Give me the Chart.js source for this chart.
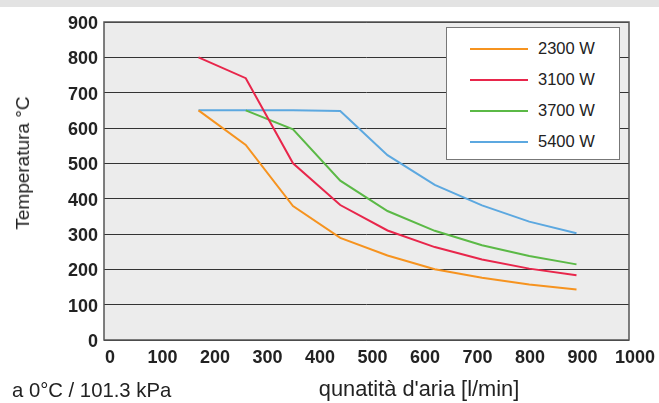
<!DOCTYPE html>
<html>
<head>
<meta charset="utf-8">
<script src="https://cdn.jsdelivr.net/npm/chart.js@4/dist/chart.umd.min.js"></script>
<style>
  body { margin: 0; background: #fff; }
  #wrap { position: relative; width: 659px; height: 403px; overflow: hidden;
          font-family: "Liberation Sans", Arial, sans-serif; }
  #band { position: absolute; left: 0; top: 0; width: 659px; height: 7px; background: #e3e3e3; }
  #salaryChart { position: absolute; left: 0; top: 0; }
  .txt { position: absolute; color: #222; white-space: nowrap; }
  #ytitle { left: 23px; top: 163px; font-size: 19px; transform: translate(-50%, -50%) rotate(-90deg); }
  #xtitle { left: 419px; top: 389px; font-size: 21.8px; transform: translate(-50%, -50%); }
  #note { left: 12px; top: 390px; font-size: 20.3px; transform: translateY(-50%); }
  #legend { position: absolute; left: 446px; top: 27px; width: 174px; height: 133px;
            background: #fff; border: 1px solid #777; box-sizing: border-box;
            font-size: 16.5px; color: #222; }
  .item { position: absolute; left: 23px; height: 20px; white-space: nowrap; }
  .item .sw { position: absolute; left: 0; top: 9px; width: 58px; height: 2px; }
  .item .lb { position: absolute; left: 68px; top: 0px; line-height: 19px; }
</style>
</head>
<body>
<div id="wrap">
  <div id="band"></div>
  <canvas id="salaryChart" width="659" height="403"></canvas>
  <div id="legend"></div>
  <div class="txt" id="ytitle">Temperatura °C</div>
  <div class="txt" id="xtitle">qunatità d'aria [l/min]</div>
  <div class="txt" id="note">a 0°C / 101.3 kPa</div>
</div>
<script>
// air flow values (l/min)
const airFlow = [180, 270, 360, 450, 540, 630, 720, 810, 900];
// temperature per heater power
const temp2300 = [650, 552, 379, 289, 239, 200, 176, 157, 143];
const temp3100 = [800, 741, 500, 382, 310, 263, 228, 202, 183];
const temp3700 = [null, 650, 596, 451, 365, 309, 268, 238, 214];
const temp5400 = [650, 650, 650, 648, 523, 439, 381, 335, 302];
const seriesNames = ['2300 W', '3100 W', '3700 W', '5400 W'];
const seriesColors = ['#f6931f', '#e8264b', '#5bb946', '#5ca8e0'];
const xTicks = [0, 100, 200, 300, 400, 500, 600, 700, 800, 900, 1000];
const yTicks = [0, 100, 200, 300, 400, 500, 600, 700, 800, 900];

function toPoints(ys) {
  const pts = [];
  for (let i = 0; i < airFlow.length; i++) {
    if (ys[i] !== null) pts.push({ x: airFlow[i], y: ys[i] });
  }
  return pts;
}

const allSeries = [temp2300, temp3100, temp3700, temp5400];
const datasets = allSeries.map(function (s, i) {
  return {
    label: seriesNames[i],
    data: toPoints(s),
    borderColor: seriesColors[i],
    backgroundColor: seriesColors[i],
    borderWidth: 2,
    pointRadius: 0,
    tension: 0
  };
});

// plot background + frame
const plotFrame = {
  id: 'plotFrame',
  beforeDraw(chart) {
    const a = chart.chartArea, c = chart.ctx;
    c.save();
    c.fillStyle = '#ececec';
    c.fillRect(a.left, a.top, a.right - a.left, a.bottom - a.top);
    c.restore();
  },
  afterDatasetsDraw(chart) {
    const a = chart.chartArea, c = chart.ctx;
    c.save();
    c.strokeStyle = '#555';
    c.lineWidth = 1.5;
    c.strokeRect(a.left, a.top, a.right - a.left, a.bottom - a.top);
    c.restore();
  }
};

const tickFont = { family: '"Liberation Sans", Arial, sans-serif', size: 18, weight: 'bold' };

const ctx = document.getElementById('salaryChart').getContext('2d');
const chart = new Chart(ctx, {
  type: 'line',
  data: { datasets: datasets },
  options: {
    responsive: false,
    animation: false,
    layout: { padding: { top: 22, right: 30, left: 0, bottom: 0 } },
    scales: {
      x: {
        type: 'linear',
        min: 0, max: 1000,
        afterBuildTicks: function (axis) { axis.ticks = xTicks.map(v => ({ value: v })); },
        afterFit: function (axis) { axis.height = 63; },
        grid: { display: false, drawTicks: false },
        border: { display: false },
        ticks: { color: '#222', font: tickFont, padding: 7, labelOffset: 6, maxRotation: 0, autoSkip: false,
                 callback: function (v) { return String(v); } }
      },
      y: {
        min: 0, max: 900,
        afterBuildTicks: function (axis) { axis.ticks = yTicks.map(v => ({ value: v })); },
        afterFit: function (axis) { axis.width = 104; },
        grid: { color: '#333', lineWidth: 1, drawTicks: false },
        border: { display: false },
        ticks: { color: '#222', font: tickFont, padding: 6, labelOffset: 2,
                 callback: function (v) { return String(v); } }
      }
    },
    plugins: {
      legend: { display: false },
      tooltip: { enabled: false }
    }
  },
  plugins: [plotFrame]
});

// html legend built from the datasets
const legend = document.getElementById('legend');
chart.data.datasets.forEach(function (ds, i) {
  const item = document.createElement('div');
  item.className = 'item';
  item.style.top = (10.5 + i * 31.3) + 'px';
  item.innerHTML = '<div class="sw" style="background:' + ds.borderColor + '"></div><div class="lb">' + ds.label + '</div>';
  legend.appendChild(item);
});
</script>
</body>
</html>
